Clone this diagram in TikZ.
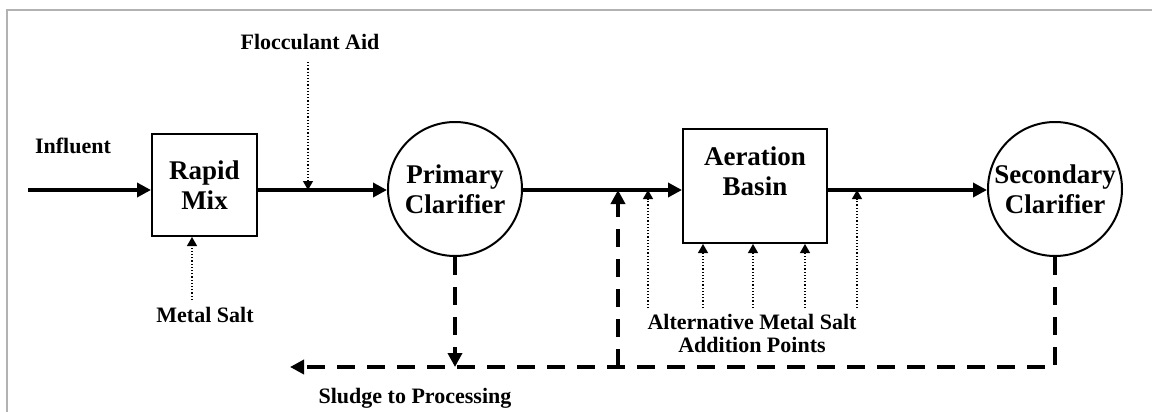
\documentclass[tikz,border=0pt]{standalone}
\usepackage{fontspec}
\setmainfont{Liberation Serif}
\usetikzlibrary{arrows.meta,positioning,calc}
\tikzset{
  unit/.style={draw, line width=1pt, font=\fontsize{13.5}{15}\selectfont\bfseries, align=center, inner sep=0pt},
  tank/.style={unit, circle, minimum size=67pt},
  basin/.style={unit, rectangle},
  lbl/.style={font=\fontsize{11}{11.5}\selectfont\bfseries, align=center, inner sep=0pt},
  flow/.style={line width=1.7pt, -{Triangle[length=7pt,width=7pt]}},
  dose/.style={line width=0.6pt, densely dotted, -{Triangle[length=4.5pt,width=5pt]}},
  sludge/.style={line width=1.8pt, dash pattern=on 9pt off 6pt, -{Triangle[length=7pt,width=7pt]}}
}

\begin{document}
\begin{tikzpicture}[x=0.5pt,y=-0.5pt]
\useasboundingbox (0,0) rectangle (1152,412);
\draw[gray!60, line width=1pt] (7,412) -- (7,10) -- (1152,10);

\node[basin, minimum width=52.5pt, minimum height=51pt] (rapid) at (204.5,185) {Rapid\\Mix};
\node[tank] (primary) at (455,189) {Primary\\Clarifier};
\node[basin, minimum width=72pt, minimum height=57pt] (aeration) at (755,186) {};
\node[unit, draw=none] (aerlbl) at (755,171) {Aeration\\Basin};
\node[tank] (secondary) at (1055,189) {Secondary\\Clarifier};

\node[lbl] (influent) at (73,146) {Influent};
\node[lbl] (floc) at (310,42) {Flocculant Aid};
\node[lbl] (salt) at (205,315) {Metal Salt};
\node[lbl] (alt) at (752,333) {Alternative Metal Salt\\Addition Points};
\node[lbl] (sludgetxt) at (415,398) {Sludge to Processing};

\coordinate (start) at (28,190);
\coordinate (flocsrc) at (308,62);
\coordinate (saltsrc) at (192,300);
\coordinate (sludgeend) at (290,367);
\coordinate (returnpt) at (618,367);

\draw[flow] (start) -- (rapid.west |- start);
\draw[flow] (rapid.east |- start) -- (primary.west |- start);
\draw[flow] (primary.east |- start) -- (aeration.west |- start);
\draw[flow] (aeration.east |- start) -- (secondary.west |- start);

\draw[dose] (flocsrc) -- (flocsrc |- start);
\draw[dose] (saltsrc) -- (saltsrc |- rapid.south);
\foreach \x in {648,857} {
  \coordinate (pt\x) at (\x,308);
  \draw[dose] (pt\x) -- (pt\x |- start);
}
\foreach \x in {703,753,805} {
  \coordinate (pt\x) at (\x,308);
  \draw[dose] (pt\x) -- (pt\x |- aeration.south);
}

\draw[sludge] (primary.south) -- (primary.south |- sludgeend);
\draw[sludge] (secondary.south) |- (sludgeend);
\draw[sludge] (returnpt) -- (returnpt |- start);
\end{tikzpicture}
\end{document}
